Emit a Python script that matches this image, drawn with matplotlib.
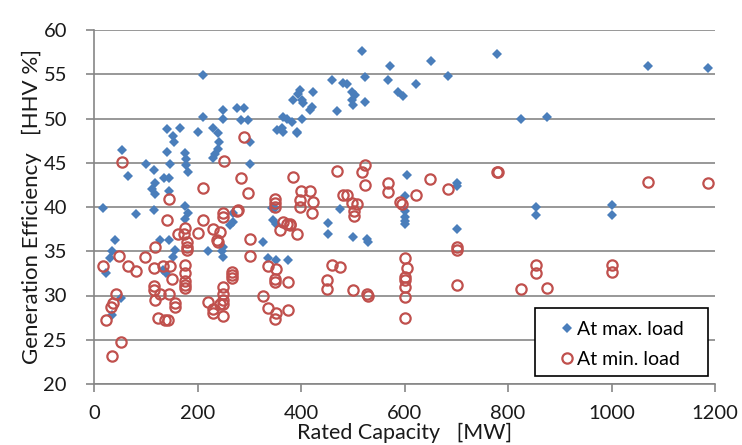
import numpy as np
import matplotlib.pyplot as plt
from matplotlib.patches import Rectangle

plt.rcParams['font.family'] = ['Lato', 'DejaVu Sans']

# At max. load (blue diamonds)
max_mw = [17, 23, 31, 34, 41, 34, 53, 55, 66, 82, 100, 115, 117, 113, 118, 115,
          141, 152, 166, 155, 141, 147, 135, 145, 145, 176, 178, 178, 181, 201,
          211, 211, 230, 239, 241, 239, 233, 230, 250, 250, 276, 289, 285, 298,
          301, 301, 353, 363, 385, 395, 366, 382, 392, 398, 401, 404, 424, 421,
          417, 372, 401, 365, 393, 459, 481, 489, 517, 524, 568, 572, 587, 597,
          623, 651, 685, 778, 498, 504, 498, 501, 524, 469, 825, 875, 1070, 1186,
          855, 855, 1000, 1000, 604, 701, 701, 601, 601, 601, 601, 601, 701, 475,
          453, 453, 500, 528, 530, 375, 176, 181, 176, 269, 269, 263, 343, 350,
          346, 352, 128, 144, 157, 153, 134, 140, 221, 250, 250, 248, 326, 337,
          352]
max_eff = [39.9, 32.5, 34.2, 35.0, 36.3, 27.8, 29.7, 46.4, 43.5, 39.2, 44.9, 44.2,
           42.7, 42.0, 41.5, 39.7, 48.8, 48.0, 48.9, 47.4, 46.2, 44.9, 43.3, 43.3,
           41.8, 46.1, 45.4, 44.7, 43.9, 48.5, 50.2, 54.9, 48.9, 48.4, 47.3, 46.5,
           46.0, 45.5, 51.0, 49.9, 51.2, 51.2, 49.8, 49.8, 47.4, 44.9, 48.7, 48.9,
           52.1, 52.8, 50.2, 49.6, 48.5, 53.2, 52.1, 51.7, 53.0, 51.3, 51.0, 50.0,
           50.0, 48.5, 48.4, 54.4, 54.0, 53.9, 57.6, 54.7, 54.4, 55.9, 53.0, 52.5,
           53.9, 56.5, 54.8, 57.3, 53.0, 52.7, 52.1, 51.5, 51.9, 50.9, 49.9, 50.2,
           55.9, 55.7, 40.0, 39.1, 40.2, 39.1, 43.6, 42.7, 42.4, 41.2, 39.5, 38.9,
           38.4, 38.1, 37.5, 39.8, 38.2, 36.9, 36.6, 36.4, 36.1, 34.0, 40.1, 39.3,
           38.6, 39.3, 38.3, 38.0, 39.9, 39.9, 38.5, 38.1, 36.3, 36.3, 35.1, 34.4,
           32.9, 32.5, 35.0, 35.5, 34.4, 35.0, 36.0, 34.2, 34.0]

# At min. load (red open circles)
min_mw = [55, 251, 289, 211, 285, 298, 384, 144, 350, 469, 517, 524, 649, 685,
          778, 623, 400, 417, 481, 489, 569, 569, 591, 596, 524, 499, 508, 503,
          503, 398, 424, 398, 421, 366, 378, 392, 459, 475, 601, 604, 601, 601,
          601, 601, 601, 701, 701, 701, 375, 451, 451, 500, 528, 530, 375, 781,
          1070, 1186, 855, 855, 1000, 1000, 825, 875, 350, 350, 142, 211, 250,
          250, 276, 279, 176, 174, 163, 180, 180, 180, 201, 230, 243, 240, 237,
          301, 301, 359, 373, 379, 118, 99, 49, 17, 66, 81, 115, 134, 147, 150,
          176, 176, 176, 176, 176, 115, 115, 118, 128, 145, 157, 157, 221, 230,
          230, 250, 250, 250, 250, 244, 250, 266, 266, 266, 326, 337, 352, 349,
          337, 352, 349, 349, 42, 37, 33, 24, 53, 34, 123, 137, 143]
min_eff = [45.1, 45.2, 47.9, 42.2, 43.3, 41.6, 43.4, 40.9, 40.9, 44.1, 44.0, 44.7,
           43.2, 42.0, 44.0, 41.4, 41.8, 41.8, 41.4, 41.4, 42.7, 41.7, 40.6, 40.3,
           42.5, 40.5, 40.3, 39.6, 39.0, 40.8, 40.6, 40.0, 39.3, 38.3, 38.0, 37.0,
           33.4, 33.2, 34.2, 33.1, 32.1, 31.7, 31.0, 29.8, 27.5, 35.5, 35.1, 31.2,
           31.5, 31.7, 30.7, 30.6, 30.2, 30.0, 28.4, 43.9, 42.8, 42.7, 33.4, 32.5,
           33.4, 32.7, 30.7, 30.9, 40.5, 40.0, 38.5, 38.5, 39.3, 38.9, 39.6, 39.7,
           37.6, 37.0, 36.9, 36.0, 35.5, 35.1, 37.1, 37.5, 37.2, 36.1, 36.3, 36.4,
           34.5, 37.4, 38.1, 38.1, 35.5, 34.4, 34.5, 33.3, 33.3, 32.8, 33.1, 33.3,
           33.3, 31.9, 33.4, 32.5, 31.6, 31.2, 30.9, 31.1, 30.6, 29.5, 30.2, 30.2,
           29.2, 28.7, 29.3, 28.5, 28.0, 31.0, 30.2, 29.5, 29.0, 29.0, 27.7, 32.7,
           32.3, 32.0, 30.0, 28.6, 28.0, 27.3, 33.3, 33.0, 31.9, 31.5, 30.2, 29.1,
           28.7, 27.2, 24.7, 23.2, 27.5, 27.2, 27.2]

x_ticks = [0, 200, 400, 600, 800, 1000, 1200]
y_ticks = [20, 25, 30, 35, 40, 45, 50, 55, 60]

fig = plt.figure(figsize=(7.42, 4.45), dpi=100)
ax = fig.add_axes([94/742, 1-384/445, 621/742, 354/445])

gc = '#868686'
txt = '#1a1a1a'
ax.plot(max_mw, max_eff, 'D', color='#4a7ebb', markersize=5.6, markeredgewidth=0,
        label='At max. load', zorder=3)
ax.plot(min_mw, min_eff, 'o', markerfacecolor='none', markeredgecolor='#c0504d',
        markersize=7.4, markeredgewidth=1.6, label='At min. load', zorder=3)

ax.set_xlim(0, 1200)
ax.set_ylim(20, 60)
ax.set_xticks(x_ticks)
ax.set_yticks(y_ticks)
ax.yaxis.grid(True, color=gc, linewidth=1.2)
ax.set_axisbelow(True)
for s in ['top', 'right']:
    ax.spines[s].set_visible(False)
for s in ['left', 'bottom']:
    ax.spines[s].set_color(gc)
    ax.spines[s].set_linewidth(1.2)
ax.tick_params(axis='both', colors=gc, length=6, width=1.2, labelsize=14.5,
               labelcolor=txt)
ax.tick_params(axis='x', pad=9)
ax.tick_params(axis='y', pad=13.5)

ax.set_xlabel('Rated Capacity   [MW]', fontsize=15.5, color=txt, labelpad=1)
ax.set_ylabel('Generation Efficiency   [HHV %]', fontsize=16, color=txt, labelpad=1)

# legend box (white, black frame) + frameless legend inside it
ax.add_patch(Rectangle((0.710, 0.0226), 0.279, 0.1921, transform=ax.transAxes,
                       facecolor='white', edgecolor='black', linewidth=1.2, zorder=4))
leg = ax.legend(loc='upper left', bbox_to_anchor=(0.730, 0.206), fontsize=14,
                frameon=False, borderpad=0, handletextpad=0.05, handlelength=1.0,
                labelspacing=0.68)
leg.set_zorder(5)

fig.savefig('out.png', dpi=100)
